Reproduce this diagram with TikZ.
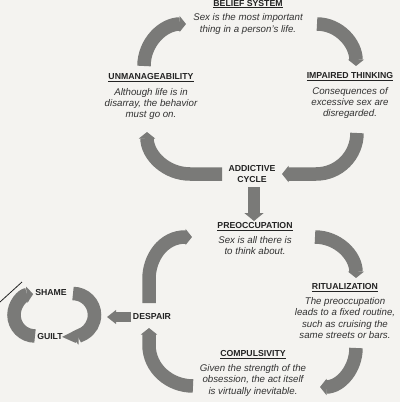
\documentclass[tikz,border=0pt]{standalone}
\usepackage{fontspec}
\setmainfont{Liberation Sans}
\usetikzlibrary{arrows.meta,positioning}

\newcommand{\ulhead}[1]{\setbox0=\hbox{#1}\rlap{\rule[-2.3pt]{\wd0}{0.9pt}}\box0}

\begin{document}
\begin{tikzpicture}[
    x=1pt, y=1pt,
    headlabel/.style={
        font=\fontsize{8.7}{11.5}\selectfont\bfseries,
        text=inkcol,
        align=center,
        inner sep=1pt
    },
    desclabel/.style={
        font=\fontsize{9.7}{11.2}\selectfont\itshape,
        text=desccol,
        align=center,
        inner sep=1pt
    },
    band/.style={
        draw=bandcol,
        line width=13.5pt,
        -{Triangle[length=6.5pt,width=16pt]}
    },
    shaft/.style={
        draw=bandcol,
        line width=12pt,
        -{Triangle[length=8pt,width=19pt]}
    }
]

% ---------------------------------
% Colors
% ---------------------------------
\definecolor{bgcol}{RGB}{244,243,240}
\definecolor{bandcol}{RGB}{122,122,120}
\definecolor{inkcol}{RGB}{35,35,35}
\definecolor{desccol}{RGB}{50,50,50}

\useasboundingbox (0,0) rectangle (400,-402);
\fill[bgcol] (0,0) rectangle (400,-402);

% ---------------------------------
% Top: addictive cycle
% ---------------------------------
\node[headlabel] (belief) at (248,-4.2) {\ulhead{BELIEF SYSTEM}};
\node[desclabel, below=3pt of belief] (beliefTxt) {Sex is the most important\\thing in a person's life.};

\node[headlabel] (impaired) at (350,-77) {\ulhead{IMPAIRED THINKING}};
\node[desclabel, below=3.5pt of impaired] (impairedTxt) {Consequences of\\excessive sex are\\disregarded.};

\node[headlabel] (unman) at (151,-78) {\ulhead{UNMANAGEABILITY}};
\node[desclabel, below=3.5pt of unman] (unmanTxt) {Although life is in\\disarray, the behavior\\must go on.};

\node[headlabel] (cycle) at (252,-174) {ADDICTIVE\\CYCLE};

\coordinate (tlA) at (144,-66);
\coordinate (tlB) at (186,-24);
\coordinate (trA) at (317,-24);
\coordinate (trB) at (356,-66);
\coordinate (brA) at (357,-133);
\coordinate (brM) at (316,-174);
\coordinate (brB) at (282,-174);
\coordinate (blA) at (222,-174);
\coordinate (blM) at (190,-174);
\coordinate (blB) at (147,-132);

\draw[band] (tlA) to[out=90,in=180] (tlB);
\draw[band] (trA) to[out=0,in=90] (trB);
\draw[band] (brA) to[out=-90,in=0] (brM) -- (brB);
\draw[band] (blA) -- (blM) to[out=180,in=-90] (blB);

% ---------------------------------
% Down into the second cycle
% ---------------------------------
\coordinate (downA) at (254,-187);
\coordinate (downB) at (254,-221);
\draw[shaft] (downA) -- (downB);

% ---------------------------------
% Bottom: preoccupation cycle
% ---------------------------------
\node[headlabel] (preocc) at (255,-227) {\ulhead{PREOCCUPATION}};
\node[desclabel, below=3pt of preocc] (preoccTxt) {Sex is all there is\\to think about.};

\node[headlabel] (ritual) at (345,-288) {\ulhead{RITUALIZATION}};
\node[desclabel, below=3pt of ritual] (ritualTxt) {The preoccupation\\leads to a fixed routine,\\such as cruising the\\same streets or bars.};

\node[headlabel] (compuls) at (253,-355) {\ulhead{COMPULSIVITY}};
\node[desclabel, below=3pt of compuls] (compulsTxt) {Given the strength of the\\obsession, the act itself\\is virtually inevitable.};

\node[headlabel] (despair) at (152,-317) {DESPAIR};

\coordinate (ptlA) at (149,-303);
\coordinate (ptlM) at (149,-279);
\coordinate (ptlN) at (185,-237);
\coordinate (ptlB) at (192,-237);
\coordinate (ptrA) at (315,-237);
\coordinate (ptrB) at (356,-278);
\coordinate (pbrA) at (356,-348);
\coordinate (pbrB) at (320,-387);
\coordinate (pblA) at (193,-386);
\coordinate (pblM) at (149,-345);
\coordinate (pblB) at (149,-328);

\draw[band] (ptlA) -- (ptlM) to[out=90,in=180] (ptlN) -- (ptlB);
\draw[band] (ptrA) to[out=0,in=90] (ptrB);
\draw[band] (pbrA) to[out=-90,in=0] (pbrB);
\draw[band] (pblA) to[out=180,in=-90] (pblM) -- (pblB);

% ---------------------------------
% Left: shame and guilt
% ---------------------------------
\node[headlabel] (shame) at (51,-293) {SHAME};
\node[headlabel] (guilt) at (50,-337) {GUILT};

\coordinate (leftA) at (131,-317);
\coordinate (leftB) at (107,-317);
\draw[draw=bandcol, line width=9.5pt, -{Triangle[length=9pt,width=13.5pt]}] (leftA) -- (leftB);

\coordinate (sgR) at (73,-293.5);
\coordinate (sgL) at (35,-336);
\draw[band] (sgR) arc[start angle=90, end angle=-92, radius=21.5pt];
\draw[band] (sgL) arc[start angle=270, end angle=95, radius=21pt];

\draw[inkcol, line width=0.8pt] (0,-302) -- (22,-282);

\end{tikzpicture}
\end{document}
